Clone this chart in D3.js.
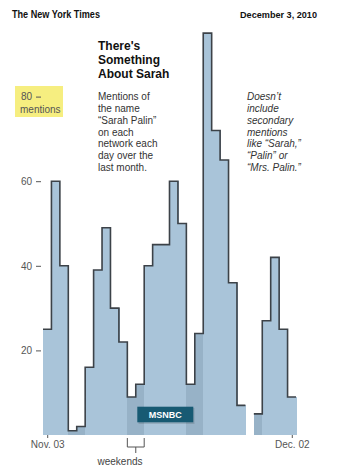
<!DOCTYPE html>
<html>
<head>
<meta charset="utf-8">
<script src="https://cdn.jsdelivr.net/npm/d3@7"></script>
<style>
  html, body { margin: 0; padding: 0; background: #fff; }
  svg { display: block; }
  text { font-family: "Liberation Sans", Arial, Helvetica, sans-serif; }
</style>
</head>
<body>
<svg id="chart" width="352" height="471"></svg>
<script>
// ---- data ----
const days = d3.range(30); // Nov 3 .. Dec 2
const dayLabels = ["Nov. 03", "Dec. 02"];
const dayLabelIndex = [0, 29];
const mentions = [25, 60, 40, 1, 2, 16, 39, 49, 30, 22, 9, 12, 40, 45, 45, 60, 50, 12, 24, 95, 72, 65, 36, 7, null, 5, 27, 42, 25, 9];
const weekendDays = [3, 4, 10, 11, 17, 18, 24, 25];
const yTicks = [20, 40, 60, 80];
const titleLines = ["There's", "Something", "About Sarah"];
const descLines = ["Mentions of", "the name", "\u201CSarah Palin\u201D", "on each", "network each", "day over the", "last month."];
const noteLines = ["Doesn\u2019t", "include", "secondary", "mentions", "like \u201CSarah,\u201D", "\u201CPalin\u201D or", "\u201CMrs. Palin.\u201D"];

// ---- layout ----
const svg = d3.select("#chart");
const x = d3.scaleLinear().domain([0, 30]).range([43, 296]);
const y = d3.scaleLinear().domain([0, 80]).range([435, 96.6]);

// header
svg.append("text").attr("x", 12).attr("y", 18)
  .attr("font-family", "'DejaVu Serif', 'Liberation Serif', serif")
  .attr("font-weight", "bold").attr("font-size", 11.5)
  .attr("textLength", 88).attr("lengthAdjust", "spacingAndGlyphs")
  .attr("fill", "#111").text("The New York Times");
svg.append("text").attr("x", 240).attr("y", 18)
  .attr("font-family", "'DejaVu Sans', Verdana, sans-serif")
  .attr("font-weight", "bold").attr("font-size", 8.5)
  .attr("textLength", 77).attr("lengthAdjust", "spacingAndGlyphs")
  .attr("fill", "#111").text("December 3, 2010");

// yellow highlight for 80 mentions
svg.append("rect").attr("x", 15).attr("y", 86).attr("width", 48).attr("height", 31)
  .attr("fill", "#f6ee80");

// bars (step area), weekends darker
const data = days.map(i => ({ i, v: mentions[i], weekend: weekendDays.includes(i) }))
  .filter(d => d.v !== null);
svg.append("g").attr("shape-rendering", "crispEdges").selectAll("rect").data(data).join("rect")
  .attr("x", d => x(d.i))
  .attr("width", d => x(d.i + 1) - x(d.i) + 0.6)
  .attr("y", d => y(d.v))
  .attr("height", d => y(0) - y(d.v))
  .attr("fill", d => d.weekend ? "#97b2c7" : "#a9c4d9");

// step line, broken at missing days
const pts = [];
days.forEach(i => {
  const v = mentions[i];
  if (v === null) { pts.push(null); return; }
  pts.push([i, v]); pts.push([i + 1, v]);
});
const line = d3.line().defined(d => d !== null).x(d => x(d[0])).y(d => y(d[1]));
svg.append("path").attr("d", line(pts)).attr("fill", "none")
  .attr("stroke", "#3c4248").attr("stroke-width", 1.6).attr("stroke-linejoin", "miter");

// y axis
const yAxis = svg.append("g").attr("transform", "translate(41,0)")
  .call(d3.axisLeft(y).tickValues(yTicks).tickSize(5).tickPadding(4).tickFormat(d3.format("d")));
yAxis.select(".domain").remove();
yAxis.selectAll("line").attr("stroke", "#555");
yAxis.selectAll("text").attr("font-size", 10).attr("fill", "#555")
  .attr("font-family", "'Liberation Sans', Arial, sans-serif");
svg.append("text").attr("x", 20).attr("y", 112.5).attr("font-size", 10).attr("fill", "#555")
  .text("mentions");

// x axis
const xAxis = svg.append("g").attr("transform", `translate(0,${y(0)})`)
  .call(d3.axisBottom(x).tickValues(dayLabelIndex.map(i => i + 0.5)).tickSize(3).tickPadding(3)
    .tickFormat((d, k) => dayLabels[k]));
xAxis.select(".domain").remove();
xAxis.selectAll("line").attr("stroke", "#555");
xAxis.selectAll("text").attr("font-size", 10).attr("fill", "#555")
  .attr("font-family", "'Liberation Sans', Arial, sans-serif");

// weekend bracket
const bx0 = x(10), bx1 = x(12), bxm = (bx0 + bx1) / 2;
svg.append("path")
  .attr("d", `M${bx0},438V447H${bx1}V438M${bxm},447V453`)
  .attr("fill", "none").attr("stroke", "#555").attr("stroke-width", 1);
svg.append("text").attr("x", 120).attr("y", 464.5).attr("text-anchor", "middle")
  .attr("font-size", 10).attr("fill", "#444").text("weekends");

// MSNBC label
svg.append("rect").attr("x", 138.5).attr("y", 408).attr("width", 56).attr("height", 16)
  .attr("fill", "#000").attr("opacity", 0.12);
svg.append("rect").attr("x", 137.3).attr("y", 406.7).attr("width", 56).attr("height", 15.6)
  .attr("fill", "#175a73");
svg.append("text").attr("x", 165.3).attr("y", 417.8).attr("text-anchor", "middle")
  .attr("font-size", 9).attr("font-weight", "bold").attr("fill", "#fff").text("MSNBC");

// title
svg.append("g").selectAll("text").data(titleLines).join("text")
  .attr("x", 98).attr("y", (d, k) => 49.5 + k * 14)
  .attr("font-size", 12).attr("font-weight", "bold").attr("fill", "#111").text(d => d);

// description
svg.append("g").selectAll("text").data(descLines).join("text")
  .attr("x", 98).attr("y", (d, k) => 100.3 + k * 11.75)
  .attr("font-size", 10).attr("fill", "#333").text(d => d);

// note
svg.append("g").selectAll("text").data(noteLines).join("text")
  .attr("x", 247).attr("y", (d, k) => 100.3 + k * 11.75)
  .attr("font-size", 10).attr("font-style", "italic").attr("fill", "#333").text(d => d);
</script>
</body>
</html>
